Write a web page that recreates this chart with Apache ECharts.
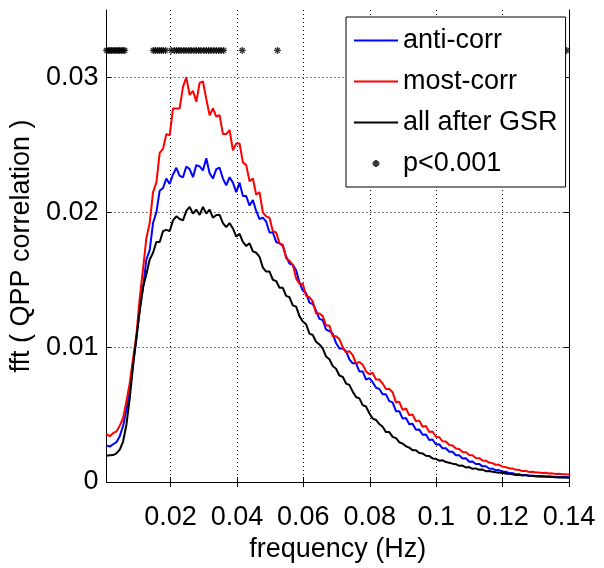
<!DOCTYPE html>
<html>
<head>
<meta charset="utf-8">
<script src="https://cdn.jsdelivr.net/npm/echarts@6/dist/echarts.min.js"></script>
<style>
html,body{margin:0;padding:0;background:#fff;}
#chart{width:604px;height:568px;}
</style>
</head>
<body>
<div id="chart"></div>
<script>
// frequency grid (Hz): evenly spaced samples between these two ends
const freqStart = 0.0007;
const freqEnd = 0.14;
const nFreq = 140;

// anti-corr (blue)
const antiCorr = [
0.00272,0.00262,0.00280,0.00295,0.00340,
0.00415,0.00535,0.00675,0.00885,0.01060,
0.01290,0.01440,0.01650,0.01720,0.0192,
0.0200,0.0216,0.0218,0.0225,0.0221,
0.0228,0.0233,0.0227,0.0226,0.0234,
0.0232,0.0226,0.0235,0.0234,0.0231,
0.0240,0.0229,0.0225,0.0232,0.0233,
0.0225,0.0220,0.0226,0.0222,0.0215,
0.0222,0.0212,0.0212,0.0205,0.0209,
0.0201,0.0195,0.0196,0.0193,0.0185,
0.0185,0.0178,0.0177,0.0175,0.0167,
0.0162,0.0161,0.0157,0.0148,0.0142,
0.0140,0.0133,0.0132,0.0127,0.0121,
0.0120,0.0113,0.0112,0.0110,0.0103,
0.0099,0.0099,0.0097,0.0091,0.0088,
0.0088,0.0082,0.0082,0.0076,0.0077,
0.0074,0.0070,0.0069,0.0065,0.0065,
0.0060,0.00590,0.00525,0.00525,0.00470,
0.00475,0.00428,0.00432,0.00388,0.00390,
0.00350,0.00352,0.00312,0.00315,0.00278,
0.00280,0.00250,0.00250,0.00224,0.00224,
0.00198,0.00198,0.00175,0.00177,0.00150,
0.00152,0.00133,0.00134,0.00116,0.00117,
0.00100,0.00098,0.00088,0.00089,0.00075,
0.00076,0.00065,0.00066,0.00057,0.00058,
0.00051,0.00052,0.00047,0.00048,0.00043,
0.00044,0.00041,0.00042,0.00039,0.00040,
0.00037,0.00038,0.00036,0.00037,0.00035
];

// most-corr (red)
const mostCorr = [
0.00355,0.00340,0.00362,0.00375,0.00418,
0.00475,0.00598,0.00735,0.00915,0.01090,
0.01365,0.01580,0.01810,0.01920,0.0215,
0.0222,0.0244,0.0247,0.0258,0.0257,
0.0277,0.0277,0.0277,0.0293,0.0300,
0.0287,0.0290,0.0282,0.0296,0.0297,
0.0284,0.0272,0.0277,0.0271,0.0272,
0.0258,0.0258,0.0261,0.0246,0.0251,
0.0251,0.0237,0.0235,0.0223,0.0225,
0.0213,0.0215,0.0200,0.0197,0.0196,
0.0186,0.0185,0.0177,0.0176,0.0166,
0.0164,0.0161,0.0151,0.0147,0.0147,
0.0138,0.0137,0.0134,0.0125,0.0125,
0.0123,0.0116,0.0116,0.0108,0.0108,
0.0106,0.0100,0.0096,0.0097,0.0094,
0.0088,0.0089,0.0087,0.0082,0.0080,
0.0081,0.0076,0.0076,0.0073,0.0069,
0.0069,0.00665,0.00590,0.00595,0.00535,
0.00545,0.00495,0.00500,0.00450,0.00455,
0.00410,0.00415,0.00370,0.00375,0.00335,
0.00332,0.00302,0.00300,0.00274,0.00270,
0.00248,0.00244,0.00222,0.00220,0.00200,
0.00198,0.00178,0.00177,0.00160,0.00158,
0.00144,0.00140,0.00128,0.00127,0.00114,
0.00110,0.00102,0.00101,0.00090,0.00090,
0.00081,0.00082,0.00075,0.00076,0.00070,
0.00071,0.00066,0.00068,0.00063,0.00064,
0.00059,0.00061,0.00057,0.00058,0.00055
];

// all after GSR (black)
const allAfterGSR = [
0.00195,0.00198,0.00200,0.00212,0.00240,
0.00300,0.00425,0.00620,0.00860,0.01075,
0.01265,0.01445,0.01540,0.01650,0.0170,
0.0178,0.0178,0.0186,0.0187,0.0186,
0.0194,0.0197,0.0195,0.0194,0.0201,
0.0204,0.0199,0.0202,0.0198,0.0204,
0.0199,0.0202,0.0196,0.0198,0.0198,
0.0192,0.0189,0.0192,0.0188,0.0182,
0.0184,0.0178,0.0175,0.0177,0.0171,
0.0170,0.0167,0.0159,0.0156,0.0156,
0.0150,0.0149,0.0144,0.0144,0.0138,
0.0137,0.0131,0.0130,0.0123,0.0119,
0.0117,0.0110,0.0109,0.0104,0.0102,
0.0099,0.0093,0.0091,0.0086,0.0084,
0.0079,0.0078,0.0073,0.0072,0.0067,
0.0063,0.0062,0.0057,0.0056,0.0051,
0.0047,0.0046,0.0043,0.0041,0.0037,
0.0037,0.00335,0.00325,0.00295,0.00285,
0.00265,0.00255,0.00235,0.00235,0.00215,
0.00212,0.00195,0.00193,0.00175,0.00172,
0.00158,0.00162,0.00148,0.00143,0.00136,
0.00132,0.00120,0.00122,0.00108,0.00111,
0.00098,0.00101,0.00090,0.00092,0.00080,
0.00082,0.00076,0.00072,0.00069,0.00068,
0.00062,0.00061,0.00058,0.00052,0.00053,
0.00049,0.00051,0.00046,0.00044,0.00043,
0.00041,0.00042,0.00039,0.00040,0.00037,
0.00036,0.00034,0.00035,0.00033,0.00032
];

// frequencies where p<0.001, drawn at a fixed height
const sigFreqs = [
0.0007,0.0012,0.0017,0.0022,0.0027,0.0032,0.0037,0.0042,0.0047,0.0052,0.0057,0.0062,
0.0148,0.0154,0.0160,0.0166,0.0172,0.0178,0.0185,
0.0202,
0.0212,0.0218,0.0225,0.0232,0.0240,0.0247,0.0255,0.0262,0.0270,0.0278,0.0285,0.0292,
0.0300,0.0308,0.0315,0.0322,0.0330,0.0338,0.0345,0.0352,0.0360,
0.0416,0.0522,0.1393
];
const sigLevel = 0.032;

const xTicks = [0.02,0.04,0.06,0.08,0.1,0.12,0.14];
const yTicks = [0,0.01,0.02,0.03];
const xMin = 0.0007, xMax = 0.14, yMin = 0, yMax = 0.035;

const freqs = [];
for (let i = 0; i < nFreq; i++) freqs.push(freqStart + i * (freqEnd - freqStart) / (nFreq - 1));
const pair = arr => arr.map((v, i) => [freqs[i], v]);

const FONT = 'Liberation Sans';
const star = 'path://M5,0L5,10M0,5L10,5M1.6,1.6L8.4,8.4M1.6,8.4L8.4,1.6';

const axisLine = {show: true, lineStyle: {color: '#000', width: 1}};
const chart = echarts.init(document.getElementById('chart'), null, {renderer: 'canvas'});
chart.setOption({
  animation: false,
  backgroundColor: '#fff',
  grid: {left: 97, top: 10, right: 35, bottom: 86, containLabel: false},
  legend: {
    orient: 'vertical', left: 346, top: 17,
    padding: [10, 8, 10, 7],
    itemWidth: 44, itemHeight: 7, itemGap: 14,
    backgroundColor: '#fff', borderColor: '#000', borderWidth: 1,
    textStyle: {fontFamily: FONT, fontSize: 27, color: '#000'},
    data: [
      {name: 'anti-corr', itemStyle: {opacity: 0}},
      {name: 'most-corr', itemStyle: {opacity: 0}},
      {name: 'all after GSR', itemStyle: {opacity: 0}},
      {name: 'p<0.001'}
    ]
  },
  xAxis: [{
    type: 'value', min: xMin, max: xMax,
    name: 'frequency (Hz)', nameLocation: 'middle', nameGap: 48,
    nameTextStyle: {fontFamily: FONT, fontSize: 27, color: '#000'},
    axisLine: axisLine,
    axisTick: {show: true, inside: true, length: 5, customValues: xTicks, lineStyle: {color: '#000'}},
    axisLabel: {show: true, margin: 22, customValues: xTicks, fontFamily: FONT, fontSize: 27, color: '#000',
      formatter: v => String(+v.toFixed(3))},
    splitLine: {show: true, lineStyle: {color: '#000', type: [1, 3], width: 1}}
  }, {
    type: 'value', min: xMin, max: xMax, position: 'top',
    axisLine: axisLine,
    axisTick: {show: true, inside: true, length: 5, customValues: xTicks, lineStyle: {color: '#000'}},
    axisLabel: {show: false}, splitLine: {show: false}
  }],
  yAxis: [{
    type: 'value', min: yMin, max: yMax,
    name: 'fft ( QPP correlation )', nameLocation: 'middle', nameGap: 62,
    nameTextStyle: {fontFamily: FONT, fontSize: 27, color: '#000'},
    axisLine: axisLine,
    axisTick: {show: true, inside: true, length: 5, customValues: yTicks, lineStyle: {color: '#000'}},
    axisLabel: {show: true, margin: 8, customValues: yTicks, fontFamily: FONT, fontSize: 27, color: '#000',
      formatter: v => String(+v.toFixed(3))},
    splitLine: {show: true, lineStyle: {color: '#000', type: [1, 3], width: 1}}
  }, {
    type: 'value', min: yMin, max: yMax, position: 'right',
    axisLine: axisLine,
    axisTick: {show: true, inside: true, length: 5, customValues: yTicks, lineStyle: {color: '#000'}},
    axisLabel: {show: false}, splitLine: {show: false}
  }],
  series: [
    {name: 'anti-corr', type: 'line', data: pair(antiCorr), symbol: 'none', showSymbol: false,
     lineStyle: {color: '#0000ff', width: 2}, itemStyle: {color: '#0000ff'}},
    {name: 'most-corr', type: 'line', data: pair(mostCorr), symbol: 'none', showSymbol: false,
     lineStyle: {color: '#ff0000', width: 2}, itemStyle: {color: '#ff0000'}},
    {name: 'all after GSR', type: 'line', data: pair(allAfterGSR), symbol: 'none', showSymbol: false,
     lineStyle: {color: '#000000', width: 2}, itemStyle: {color: '#000000'}},
    {name: 'p<0.001', type: 'scatter', data: sigFreqs.map(f => [f, sigLevel]),
     symbol: star, symbolSize: 7,
     itemStyle: {color: '#000', borderColor: '#000', borderWidth: 1.3}}
  ]
});
</script>
</body>
</html>
